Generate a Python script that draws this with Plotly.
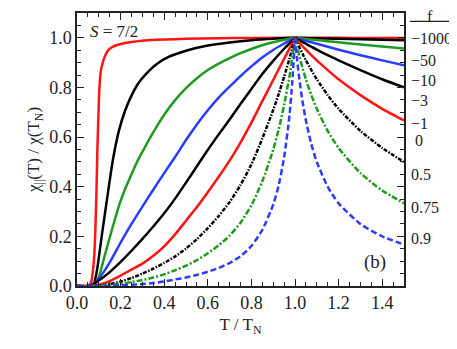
import plotly.graph_objects as go

# ---- values: T/T_N and chi_par(T)/chi(T_N) ----
f_labels = ["\u22121000", "\u221250", "\u221210", "\u22123", "\u22121", "0", "0.5", "0.75", "0.9"]
label_y = [0.996, 0.91, 0.827, 0.746, 0.653, 0.585, 0.448, 0.315, 0.19]

# T > T_N part (Curie-Weiss side), common grid
t_above = [1.0, 1.01, 1.02, 1.035, 1.05, 1.075, 1.1, 1.15, 1.2, 1.3, 1.4, 1.5]

# f = -1000
t_m1000 = [0, 0.048, 0.058, 0.066, 0.073, 0.079, 0.084, 0.089, 0.093, 0.098, 0.103, 0.11,
           0.118, 0.13, 0.143, 0.16, 0.18, 0.21, 0.25, 0.31, 0.4, 0.5, 0.65, 0.8, 1.0]
chi_m1000 = [0, 0, 0.005, 0.02, 0.06, 0.12, 0.22, 0.37, 0.53, 0.68, 0.8, 0.87,
             0.9, 0.93, 0.95, 0.962, 0.97, 0.977, 0.983, 0.989, 0.993, 0.996, 0.998, 0.9995, 1.0]
up_m1000 = [1.0, 1.0, 1.0, 1.0, 1.0, 1.0, 0.9999, 0.9999, 0.9998, 0.9997, 0.9996, 0.9995]

# f = -50
t_m50 = [0, 0.065, 0.078, 0.088, 0.098, 0.11, 0.123, 0.145, 0.164, 0.192, 0.22, 0.246,
         0.28, 0.319, 0.366, 0.42, 0.5, 0.6, 0.7, 0.8, 0.9, 1.0]
chi_m50 = [0, 0, 0.01, 0.045, 0.1, 0.18, 0.26, 0.394, 0.505, 0.625, 0.705, 0.76,
           0.815, 0.857, 0.895, 0.923, 0.948, 0.969, 0.981, 0.99, 0.996, 1.0]
up_m50 = [1.0, 0.9998, 0.9996, 0.9993, 0.999, 0.9985, 0.998, 0.997, 0.996, 0.994, 0.992, 0.990]

# f = -10
t_m10 = [0, 0.07, 0.085, 0.1, 0.113, 0.128, 0.15, 0.171, 0.195, 0.222, 0.25, 0.28, 0.315,
         0.357, 0.4, 0.45, 0.5, 0.55, 0.6, 0.65, 0.7, 0.75, 0.8, 0.85, 0.9, 0.95, 1.0]
chi_m10 = [0, 0, 0.01, 0.035, 0.075, 0.125, 0.195, 0.26, 0.33, 0.394, 0.45, 0.508, 0.565,
           0.63, 0.69, 0.749, 0.797, 0.837, 0.870, 0.896, 0.918, 0.938, 0.955, 0.970, 0.982,
           0.992, 1.0]
up_m10 = [1.0, 0.9991, 0.9982, 0.9968, 0.9955, 0.9932, 0.991, 0.9865, 0.982, 0.973, 0.965, 0.957]

# f = -3
t_m3 = [0, 0.06, 0.075, 0.1, 0.125, 0.15, 0.2, 0.25, 0.3, 0.35, 0.4, 0.45, 0.5, 0.55, 0.6,
        0.65, 0.7, 0.75, 0.8, 0.85, 0.9, 0.95, 0.975, 1.0]
chi_m3 = [0, 0, 0.008, 0.03, 0.06, 0.095, 0.175, 0.25, 0.32, 0.388, 0.455, 0.52, 0.588, 0.651,
          0.708, 0.759, 0.803, 0.846, 0.885, 0.921, 0.951, 0.977, 0.989, 1.0]
up_m3 = [1.0, 0.9975, 0.995, 0.991, 0.988, 0.982, 0.976, 0.964, 0.952, 0.930, 0.909, 0.889]

# f = -1
t_m1 = [0, 0.05, 0.07, 0.1, 0.15, 0.2, 0.25, 0.3, 0.35, 0.4, 0.45, 0.5, 0.55, 0.6, 0.65, 0.7,
        0.75, 0.8, 0.85, 0.9, 0.95, 0.975, 1.0]
chi_m1 = [0, 0, 0.006, 0.022, 0.056, 0.097, 0.142, 0.19, 0.24, 0.293, 0.352, 0.4165, 0.4825,
          0.5485, 0.611, 0.671, 0.733, 0.794, 0.854, 0.907, 0.956, 0.978, 1.0]
up_m1 = [1.0, 0.995, 0.990, 0.983, 0.976, 0.964, 0.952, 0.930, 0.909, 0.870, 0.833, 0.800]

# f = 0
t_0 = [0, 0.07, 0.1, 0.15, 0.2, 0.25, 0.3, 0.35, 0.4, 0.45, 0.5, 0.55, 0.6, 0.65, 0.7, 0.75,
       0.8, 0.85, 0.9, 0.95, 0.975, 1.0]
chi_0 = [0, 0, 0.005, 0.02, 0.042, 0.066, 0.09, 0.122, 0.16, 0.208, 0.263, 0.318, 0.378, 0.44,
         0.505, 0.578, 0.658, 0.745, 0.83, 0.915, 0.957, 1.0]
up_0 = [1.0, 0.990, 0.980, 0.966, 0.952, 0.930, 0.909, 0.870, 0.833, 0.769, 0.714, 0.667]

# f = 0.5
t_p05 = [0, 0.08, 0.1, 0.15, 0.2, 0.25, 0.3, 0.35, 0.4, 0.45, 0.5, 0.55, 0.6, 0.65, 0.7, 0.75,
         0.8, 0.85, 0.9, 0.925, 0.95, 0.975, 1.0]
chi_p05 = [0, 0, 0.001, 0.007, 0.018, 0.032, 0.05, 0.07, 0.093, 0.119, 0.151, 0.189, 0.233,
           0.282, 0.338, 0.407, 0.490, 0.594, 0.709, 0.773, 0.843, 0.917, 1.0]
up_p05 = [1.0, 0.980, 0.962, 0.935, 0.909, 0.870, 0.833, 0.769, 0.714, 0.625, 0.556, 0.500]

# f = 0.75
t_p075 = [0, 0.1, 0.15, 0.2, 0.25, 0.3, 0.35, 0.4, 0.45, 0.5, 0.55, 0.6, 0.65, 0.7, 0.75, 0.8,
          0.85, 0.9, 0.925, 0.95, 0.975, 0.9875, 1.0]
chi_p075 = [0, 0, 0.004, 0.009, 0.016, 0.024, 0.034, 0.047, 0.0634, 0.0819, 0.104, 0.132, 0.164,
            0.203, 0.255, 0.325, 0.422, 0.549, 0.63, 0.729, 0.847, 0.921, 1.0]
up_p075 = [1.0, 0.962, 0.926, 0.877, 0.833, 0.769, 0.714, 0.625, 0.556, 0.455, 0.385, 0.333]

# f = 0.9
t_p09 = [0, 0.15, 0.2, 0.25, 0.3, 0.35, 0.4, 0.45, 0.5, 0.55, 0.6, 0.65, 0.7, 0.75, 0.8, 0.85,
         0.9, 0.925, 0.95, 0.975, 0.9875, 1.0]
chi_p09 = [0, 0, 0.003, 0.005, 0.008, 0.012, 0.018, 0.0264, 0.0345, 0.0445, 0.0573, 0.0728,
           0.0926, 0.120, 0.161, 0.226, 0.328, 0.405, 0.518, 0.69, 0.823, 1.0]
up_p09 = [1.0, 0.909, 0.833, 0.741, 0.667, 0.571, 0.500, 0.400, 0.333, 0.250, 0.200, 0.167]

RED = "#ff1414"
BLACK = "#000000"
GREEN = "#1e9b1e"
BLUE = "#2a3cff"

curves = [
    (t_m1000, chi_m1000, up_m1000, RED, "solid"),
    (t_m50, chi_m50, up_m50, BLACK, "solid"),
    (t_m10, chi_m10, up_m10, GREEN, "solid"),
    (t_m3, chi_m3, up_m3, BLUE, "solid"),
    (t_m1, chi_m1, up_m1, BLACK, "solid"),
    (t_0, chi_0, up_0, RED, "solid"),
    (t_p05, chi_p05, up_p05, BLACK, "4px,1.5px,1.5px,1.5px"),
    (t_p075, chi_p075, up_p075, GREEN, "6px,2px,2px,2px"),
    (t_p09, chi_p09, up_p09, BLUE, "6px,3px"),
]

FONT = "Liberation Serif, Times New Roman, Times, serif"
INK = "#222"

fig = go.Figure()
for t_lo, chi_lo, chi_hi, color, dash in curves:
    # below and above T_N as separate smoothed pieces (cusp at T_N)
    xs = list(t_lo) + [None] + list(t_above)
    ys = list(chi_lo) + [None] + list(chi_hi)
    fig.add_trace(go.Scatter(x=xs, y=ys, mode="lines", connectgaps=False,
                             line=dict(color=color, width=2.5, dash=dash,
                                       shape="spline", smoothing=0.6),
                             hoverinfo="skip", showlegend=False))

axis_common = dict(showline=True, linecolor=INK, linewidth=1.5, mirror="allticks",
                   ticks="inside", ticklen=7, tickwidth=1.2, tickcolor=INK,
                   showgrid=False, zeroline=False, automargin=False,
                   tickfont=dict(family=FONT, size=18, color=INK))

fig.update_xaxes(range=[0, 1.5], dtick=0.2, tickformat=".1f",
                 minor=dict(dtick=0.05, ticks="inside", ticklen=4, tickcolor=INK),
                 title=dict(text="T / T<sub>N</sub>", standoff=6,
                            font=dict(family=FONT, size=17, color=INK)),
                 **axis_common)
fig.update_yaxes(range=[0, 1.1], dtick=0.2, tickformat=".1f",
                 minor=dict(dtick=0.05, ticks="inside", ticklen=4, tickcolor=INK),
                 title=dict(text="\u03c7<sub>||</sub>(T) / \u03c7(T<sub>N</sub>)", standoff=5,
                            font=dict(family=FONT, size=17, color=INK)),
                 **axis_common)

# f legend on the right of the frame
for lab, yv in zip(f_labels, label_y):
    xpx = 413 if lab == "0" else 409
    fig.add_annotation(x=1 + (xpx - 404) / 327, xref="paper", y=yv, yref="y",
                       text=lab, showarrow=False, xanchor="left", yanchor="middle",
                       font=dict(family=FONT, size=16, color=INK))
fig.add_annotation(x=1 + (430 - 404) / 327, xref="paper", y=1.085, yref="y", text="f",
                   showarrow=False, xanchor="center", yanchor="middle",
                   font=dict(family=FONT, size=16, color=INK))
fig.add_shape(type="line", xref="paper", yref="y",
              x0=1 + (410 - 404) / 327, x1=1 + (451 - 404) / 327, y0=1.066, y1=1.066,
              line=dict(color=INK, width=1.2))

fig.add_annotation(x=0.034, xref="paper", y=1.025, yref="y", text="<i>S</i> = 7/2",
                   showarrow=False, xanchor="left", yanchor="middle",
                   font=dict(family=FONT, size=17, color=INK))
fig.add_annotation(x=1.367, y=0.097, text="(b)", showarrow=False,
                   font=dict(family=FONT, size=19, color=INK))

# page body adds an 8px offset, so the figure is 8px smaller on each side
fig.update_layout(width=449, height=341, margin=dict(l=69, r=53, t=5, b=63),
                  paper_bgcolor="white", plot_bgcolor="white")

fig.write_html("out.html")
